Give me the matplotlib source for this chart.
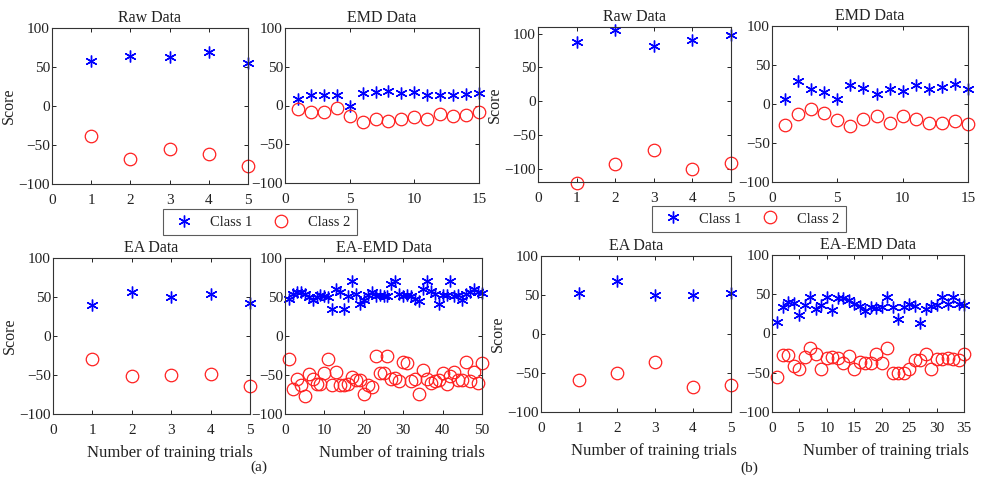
import matplotlib
matplotlib.use("Agg")
import matplotlib.pyplot as plt
from matplotlib.lines import Line2D
import numpy as np

plt.rcParams['font.family'] = ['Liberation Serif', 'DejaVu Serif']

# ---- data (a) ----
raw_a_c1 = [58, 64, 63, 69, 55]
raw_a_c2 = [-39, -68, -55, -61, -77]

emd_a_c1 = [9, 13, 13, 13, 0, 16, 18, 19, 16, 18, 13, 14, 13, 15, 16]
emd_a_c2 = [-5, -9, -8, -3, -13, -21, -18, -20, -17, -15, -18, -11, -13, -12, -9]

ea_a_c1 = [40, 56, 50, 54, 42]
ea_a_c2 = [-30, -51, -50, -49, -64]

eaemd_a_c1 = [48, 54, 57, 57, 54, 50, 46, 50, 52, 51,
              50, 34, 60, 56, 34, 51, 71, 54, 41, 46,
              52, 56, 51, 52, 51, 51, 67, 71, 54, 51,
              52, 51, 48, 45, 60, 71, 58, 54, 41, 53,
              53, 71, 51, 52, 46, 54, 57, 60, 57, 55]
eaemd_a_c2 = [-30, -68, -55, -63, -77, -49, -55, -61, -61, -48,
              -29, -63, -46, -63, -63, -62, -53, -57, -56, -74,
              -63, -65, -26, -47, -47, -26, -55, -54, -58, -33,
              -34, -58, -55, -74, -44, -55, -60, -58, -57, -47,
              -62, -51, -46, -57, -57, -33, -58, -46, -60, -34]

# ---- data (b) ----
raw_b_c1 = [87, 105, 82, 90, 98]
raw_b_c2 = [-121, -94, -72, -100, -92]

emd_b_c1 = [7, 30, 19, 16, 7, 25, 20, 13, 19, 17, 25, 19, 22, 26, 19]
emd_b_c2 = [-27, -13, -7, -12, -21, -28, -19, -16, -24, -15, -19, -24, -24, -22, -26]

ea_b_c1 = [53, 68, 50, 50, 53]
ea_b_c2 = [-59, -50, -36, -68, -65]

eaemd_b_c1 = [15, 34, 40, 39, 24, 36, 46, 31, 36, 46,
              30, 45, 45, 43, 37, 35, 29, 34, 32, 34,
              47, 34, 19, 34, 37, 35, 13, 31, 35, 36,
              46, 37, 46, 37, 36]
eaemd_b_c2 = [-56, -28, -28, -42, -45, -30, -19, -26, -45, -31,
              -30, -31, -37, -29, -45, -36, -38, -37, -26, -37,
              -19, -50, -50, -50, -45, -34, -34, -26, -45, -32,
              -32, -31, -32, -34, -26]

W, H = 986, 480
fig = plt.figure(figsize=(W / 100, H / 100), dpi=100)

star = (6, 2, 0)
blue = '#0000ff'
red = '#ff2020'
txt = '#222222'


def px_axes(x0, y0, x1, y1):
    return fig.add_axes([x0 / W, 1 - y1 / H, (x1 - x0) / W, (y1 - y0) / H])


def panel(box, c1, c2, title, xmax, xstep, ylim=(-100, 100), ylabel=False, xlabel=False):
    ax = px_axes(*box)
    x = np.arange(1, len(c1) + 1)
    ax.plot(x, c1, linestyle='none', marker=star, color=blue, markersize=8.5,
            markeredgewidth=1.0, clip_on=False)
    ax.plot(x, c2, linestyle='none', marker='o', markerfacecolor='none', markeredgecolor=red,
            markersize=9, markeredgewidth=0.9, clip_on=False)
    ax.set_xlim(0, xmax)
    ax.set_ylim(*ylim)
    ax.set_xticks(np.arange(0, xmax + 1, xstep))
    ax.set_yticks([-100, -50, 0, 50, 100])
    ax.tick_params(direction='in', top=True, right=True, length=3, width=0.6,
                   labelsize=11, labelcolor=txt)
    ax.tick_params(axis='y', pad=1.5)
    ax.tick_params(axis='x', pad=7.5)
    for s in ax.spines.values():
        s.set_linewidth(0.8)
        s.set_color('#333333')
    ax.set_title(title, fontsize=11.5, color=txt, pad=4)
    if ylabel:
        ax.set_ylabel('Score', fontsize=11.5, color=txt, labelpad=1)
    if xlabel:
        ax.set_xlabel('Number of training trials', fontsize=12, color=txt)
        w = box[2] - box[0]
        ax.xaxis.set_label_coords(0.5 + 18 / w, -0.2)
    return ax


# (a)
panel((52, 28, 248, 184), raw_a_c1, raw_a_c2, 'Raw Data', 5, 1, ylabel=True)
panel((285, 28, 479, 183), emd_a_c1, emd_a_c2, 'EMD Data', 15, 5)
panel((53, 258, 250, 414), ea_a_c1, ea_a_c2, 'EA Data', 5, 1, ylabel=True, xlabel=True)
panel((285, 258, 482, 414), eaemd_a_c1, eaemd_a_c2, 'EA-EMD Data', 50, 10, xlabel=True)

# (b)
panel((538, 27, 731, 182), raw_b_c1, raw_b_c2, 'Raw Data', 5, 1, ylim=(-120, 110), ylabel=True)
panel((772, 26, 968, 182), emd_b_c1, emd_b_c2, 'EMD Data', 15, 5)
panel((541, 256, 731, 412), ea_b_c1, ea_b_c2, 'EA Data', 5, 1, ylabel=True, xlabel=True)
panel((772, 255, 964, 412), eaemd_b_c1, eaemd_b_c2, 'EA-EMD Data', 35, 5, xlabel=True)

handles = [
    Line2D([], [], linestyle='none', marker=star, color=blue, markersize=8.5, markeredgewidth=1.0),
    Line2D([], [], linestyle='none', marker='o', markerfacecolor='none', markeredgecolor=red,
           markersize=9, markeredgewidth=0.9),
]
for cx, cy in [(259.5, 222), (748.5, 219)]:
    leg = fig.legend(handles, ['Class 1', 'Class 2'], loc='center', ncol=2,
                     bbox_to_anchor=(cx / W, 1 - cy / H), frameon=True, fancybox=False,
                     fontsize=10.5, handlelength=2.0, columnspacing=1.0, handletextpad=0.8,
                     borderpad=0.45, edgecolor='#333333')
    leg.get_frame().set_linewidth(0.8)
    for t in leg.get_texts():
        t.set_color(txt)

fig.text(259 / W, 1 - 467 / H, '(a)', fontsize=11, color=txt, ha='center', va='center')
fig.text(749 / W, 1 - 468 / H, '(b)', fontsize=11, color=txt, ha='center', va='center')

fig.savefig('out.png', dpi=100)
